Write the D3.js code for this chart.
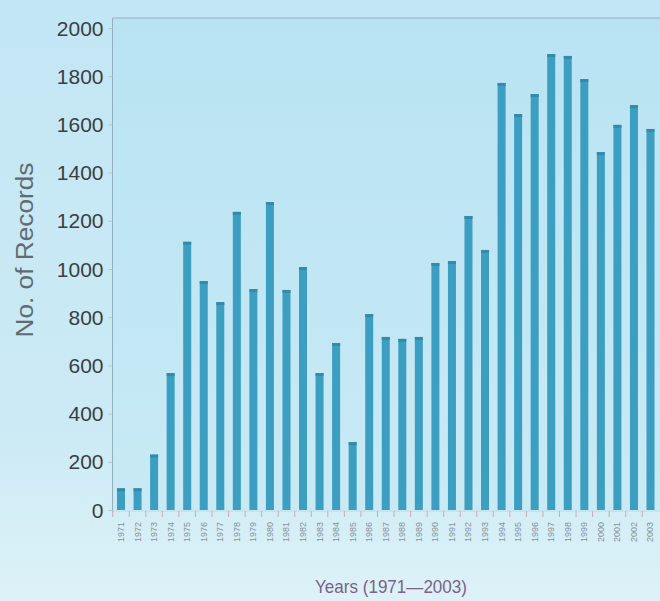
<!DOCTYPE html>
<html>
<head>
<meta charset="utf-8">
<script src="https://cdn.jsdelivr.net/npm/d3@7"></script>
<style>
  html, body { margin: 0; padding: 0; }
  body { width: 660px; height: 601px; overflow: hidden; }
</style>
</head>
<body>
<svg id="chart" width="660" height="601"></svg>
<script>
const years = ["1971","1972","1973","1974","1975","1976","1977","1978","1979","1980","1981",
  "1982","1983","1984","1985","1986","1987","1988","1989","1990","1991","1992","1993",
  "1994","1995","1996","1997","1998","1999","2000","2001","2002","2003"];
const records = [90, 90, 230, 568, 1113, 950, 863, 1237, 917, 1278, 913,
  1008, 568, 693, 282, 813, 718, 710, 718, 1025, 1033, 1220, 1079,
  1772, 1643, 1726, 1892, 1884, 1788, 1485, 1598, 1680, 1581];
const yTicks = [0, 200, 400, 600, 800, 1000, 1200, 1400, 1600, 1800, 2000];
const yTitle = "No. of Records";
const xTitle = "Years (1971\u20142003)";

(function () {
const svg = d3.select("#chart");
const defs = svg.append("defs");
const pg = defs.append("linearGradient").attr("id", "pageBg").attr("x1", 0).attr("y1", 0).attr("x2", 0).attr("y2", 1);
pg.append("stop").attr("offset", "0%").attr("stop-color", "#c3e6f4");
pg.append("stop").attr("offset", "70%").attr("stop-color", "#cbeaf5");
pg.append("stop").attr("offset", "100%").attr("stop-color", "#ddf2f8");
const pl = defs.append("linearGradient").attr("id", "plotBg").attr("x1", 0).attr("y1", 0).attr("x2", 0).attr("y2", 1);
pl.append("stop").attr("offset", "0%").attr("stop-color", "#b9e3f3");
pl.append("stop").attr("offset", "100%").attr("stop-color", "#c8eaf5");

svg.append("rect").attr("width", 660).attr("height", 601).attr("fill", "url(#pageBg)");

const pLeft = 112.5, pRight = 659, pTop = 18, pBottom = 510;
const x = d3.scaleBand().domain(years).range([pLeft, pRight]).paddingInner(0.516).paddingOuter(0.272);
const y = d3.scaleLinear().domain([0, 2000]).range([pBottom, 28]);

// plot area
svg.append("rect").attr("x", pLeft).attr("y", pTop).attr("width", 660 - pLeft).attr("height", pBottom - pTop)
  .attr("fill", "url(#plotBg)");
svg.append("line").attr("x1", pLeft).attr("x2", 660).attr("y1", pTop).attr("y2", pTop)
  .attr("stroke", "#8fb3c3").attr("stroke-width", 1.2);

// bars
const bars = svg.append("g");
bars.selectAll("rect.bar").data(years).join("rect").attr("class", "bar")
  .attr("x", d => x(d)).attr("width", x.bandwidth())
  .attr("y", (d, i) => y(records[i])).attr("height", (d, i) => y(0) - y(records[i]))
  .attr("fill", "#3c9ec1");
bars.selectAll("rect.cap").data(years).join("rect").attr("class", "cap")
  .attr("x", d => x(d)).attr("width", x.bandwidth())
  .attr("y", (d, i) => y(records[i])).attr("height", 3)
  .attr("fill", "#358aa8");

// y axis
const yAxis = d3.axisLeft(y).tickValues(yTicks).tickSize(4).tickPadding(6).tickFormat(d3.format("d"));
const gy = svg.append("g").attr("transform", `translate(${pLeft},0)`).call(yAxis);
gy.select(".domain").attr("stroke", "#8fb0bf").attr("d", `M-0,${pTop}V${pBottom + 2}`);
gy.selectAll(".tick line").attr("stroke", "#b0c8d3");
gy.selectAll(".tick text").attr("fill", "#3a3f43")
  .style("font-family", "'Liberation Sans', Arial, sans-serif").style("font-size", "21px")
  .attr("dy", "0.34em").attr("x", -9);

// x axis
const step = x.step();
const gx = svg.append("g").attr("transform", `translate(0,${pBottom + 1})`);
gx.append("line").attr("x1", pLeft).attr("x2", 660).attr("y1", 0).attr("y2", 0).attr("stroke", "#c2d6de");
gx.selectAll("line.tk").data(years).join("line").attr("class", "tk")
  .attr("x1", d => x(d) + x.bandwidth() / 2 - step / 2).attr("x2", d => x(d) + x.bandwidth() / 2 - step / 2)
  .attr("y1", 0).attr("y2", 6).attr("stroke", "#c9adb6");
gx.selectAll("text.yr").data(years).join("text").attr("class", "yr")
  .attr("transform", d => `translate(${x(d) + x.bandwidth() / 2 + 3},11) rotate(-90)`)
  .attr("text-anchor", "end")
  .attr("fill", "#85929b")
  .style("font-family", "'Liberation Sans', Arial, sans-serif").style("font-size", "9px")
  .text(d => d);

// titles
svg.append("text").attr("transform", `translate(33,250) rotate(-90)`)
  .attr("text-anchor", "middle").attr("fill", "#626b70")
  .style("font-family", "'Liberation Sans', Arial, sans-serif").style("font-size", "23px")
  .attr("textLength", 175).attr("lengthAdjust", "spacingAndGlyphs")
  .text(yTitle);
svg.append("text").attr("x", 391).attr("y", 593)
  .attr("text-anchor", "middle").attr("fill", "#7c6188")
  .style("font-family", "'Liberation Sans', Arial, sans-serif").style("font-size", "19px")
  .attr("textLength", 152).attr("lengthAdjust", "spacingAndGlyphs")
  .text(xTitle);
})();
</script>
</body>
</html>
